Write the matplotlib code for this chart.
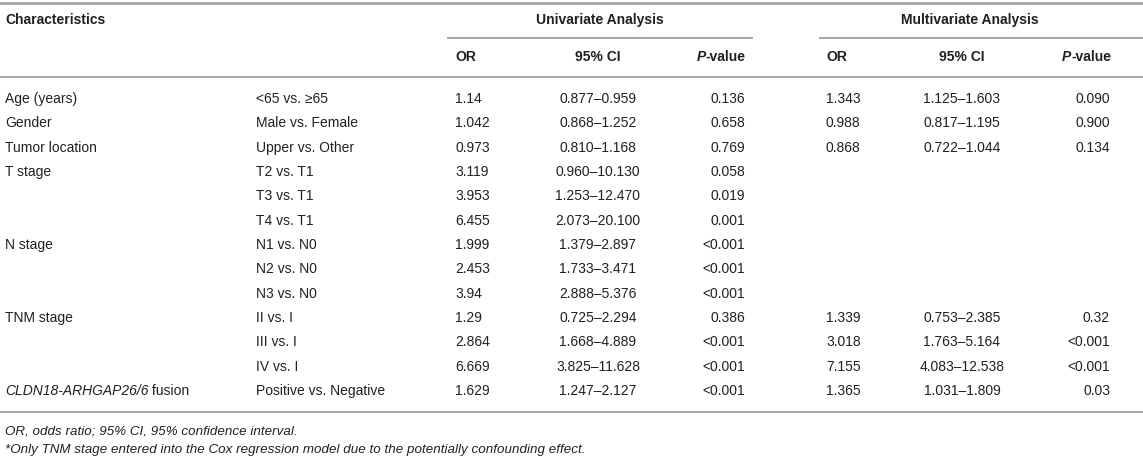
import matplotlib
matplotlib.use("Agg")
import matplotlib.pyplot as plt

plt.rcParams['font.family'] = ['Liberation Sans', 'DejaVu Sans']

# table contents
characteristics = ["Age (years)", "Gender", "Tumor location", "T stage", "", "",
                   "N stage", "", "", "TNM stage", "", "", "CLDN18-ARHGAP26/6"]
comparisons = ["<65 vs. \u226565", "Male vs. Female", "Upper vs. Other",
               "T2 vs. T1", "T3 vs. T1", "T4 vs. T1",
               "N1 vs. N0", "N2 vs. N0", "N3 vs. N0",
               "II vs. I", "III vs. I", "IV vs. I", "Positive vs. Negative"]
uni_or = ["1.14", "1.042", "0.973", "3.119", "3.953", "6.455", "1.999", "2.453",
          "3.94", "1.29", "2.864", "6.669", "1.629"]
uni_ci = ["0.877\u20130.959", "0.868\u20131.252", "0.810\u20131.168",
          "0.960\u201310.130", "1.253\u201312.470", "2.073\u201320.100",
          "1.379\u20132.897", "1.733\u20133.471", "2.888\u20135.376",
          "0.725\u20132.294", "1.668\u20134.889", "3.825\u201311.628",
          "1.247\u20132.127"]
uni_p = ["0.136", "0.658", "0.769", "0.058", "0.019", "0.001", "<0.001", "<0.001",
         "<0.001", "0.386", "<0.001", "<0.001", "<0.001"]
multi_or = ["1.343", "0.988", "0.868", "", "", "", "", "", "", "1.339", "3.018",
            "7.155", "1.365"]
multi_ci = ["1.125\u20131.603", "0.817\u20131.195", "0.722\u20131.044", "", "", "",
            "", "", "", "0.753\u20132.385", "1.763\u20135.164", "4.083\u201312.538",
            "1.031\u20131.809"]
multi_p = ["0.090", "0.900", "0.134", "", "", "", "", "", "", "0.32", "<0.001",
           "<0.001", "0.03"]
footnotes = ["OR, odds ratio; 95% CI, 95% confidence interval.",
             "*Only TNM stage entered into the Cox regression model due to the potentially confounding effect."]

W, H = 1143, 462
fig = plt.figure(figsize=(W / 100, H / 100), dpi=100)
ax = fig.add_axes([0, 0, 1, 1])
ax.set_xlim(0, W)
ax.set_ylim(H, 0)
ax.axis('off')

txt_color = '#231f20'
line_color = '#a6a6a6'
fs = 10.0

renderer = fig.canvas.get_renderer()


def mixed(x, y, parts, ha='left'):
    """draw consecutive text pieces with different styles"""
    items = []
    for s, style, weight in parts:
        t = ax.text(0, y, s, fontsize=fs, style=style, weight=weight,
                    color=txt_color, va='center', ha='left')
        items.append(t)
    widths = [t.get_window_extent(renderer).width for t in items]
    total = sum(widths)
    if ha == 'center':
        x0 = x - total / 2
    elif ha == 'right':
        x0 = x - total
    else:
        x0 = x
    for t, w in zip(items, widths):
        t.set_x(x0)
        x0 += w


def txt(x, y, s, ha='left', **kw):
    ax.text(x, y, s, fontsize=fs, color=txt_color, va='center', ha=ha, **kw)


# column positions
x_char = 5
x_comp = 256
x_uor = 455
x_uci = 598
x_up = 745
x_mor = 826
x_mci = 962
x_mp = 1110

# rules
ax.plot([0, W], [3, 3], color=line_color, lw=2)
ax.plot([448, 752], [38, 38], color=line_color, lw=1.4)
ax.plot([820, W], [38, 38], color=line_color, lw=1.4)
ax.plot([0, W], [77, 77], color=line_color, lw=1.4)
ax.plot([0, W], [412, 412], color=line_color, lw=1.4)

# header
txt(x_char, 20, "Characteristics", weight='bold')
txt(600, 20, "Univariate Analysis", ha='center', weight='bold')
txt(970, 20, "Multivariate Analysis", ha='center', weight='bold')
txt(x_uor, 57, "OR", weight='bold')
txt(x_uci, 57, "95% CI", ha='center', weight='bold')
mixed(x_up + 1, 57, [("P", 'italic', 'bold'), ("-value", 'normal', 'bold')], ha='right')
txt(x_mor, 57, "OR", weight='bold')
txt(x_mci, 57, "95% CI", ha='center', weight='bold')
mixed(x_mp + 1, 57, [("P", 'italic', 'bold'), ("-value", 'normal', 'bold')], ha='right')

# body
row0, step = 99, 24.33
for i in range(len(comparisons)):
    y = row0 + step * i
    if characteristics[i].startswith("CLDN18"):
        mixed(x_char, y, [(characteristics[i], 'italic', 'normal'),
                          (" fusion", 'normal', 'normal')])
    else:
        txt(x_char, y, characteristics[i])
    txt(x_comp, y, comparisons[i])
    txt(x_uor, y, uni_or[i])
    txt(x_uci, y, uni_ci[i], ha='center')
    txt(x_up, y, uni_p[i], ha='right')
    txt(x_mor, y, multi_or[i])
    txt(x_mci, y, multi_ci[i], ha='center')
    txt(x_mp, y, multi_p[i], ha='right')

# footnotes
ax.text(x_char, 431, footnotes[0], fontsize=9.6, style='italic', color=txt_color, va='center')
ax.text(x_char, 450, footnotes[1], fontsize=9.6, style='italic', color=txt_color, va='center')

fig.savefig("out.png", dpi=100)
